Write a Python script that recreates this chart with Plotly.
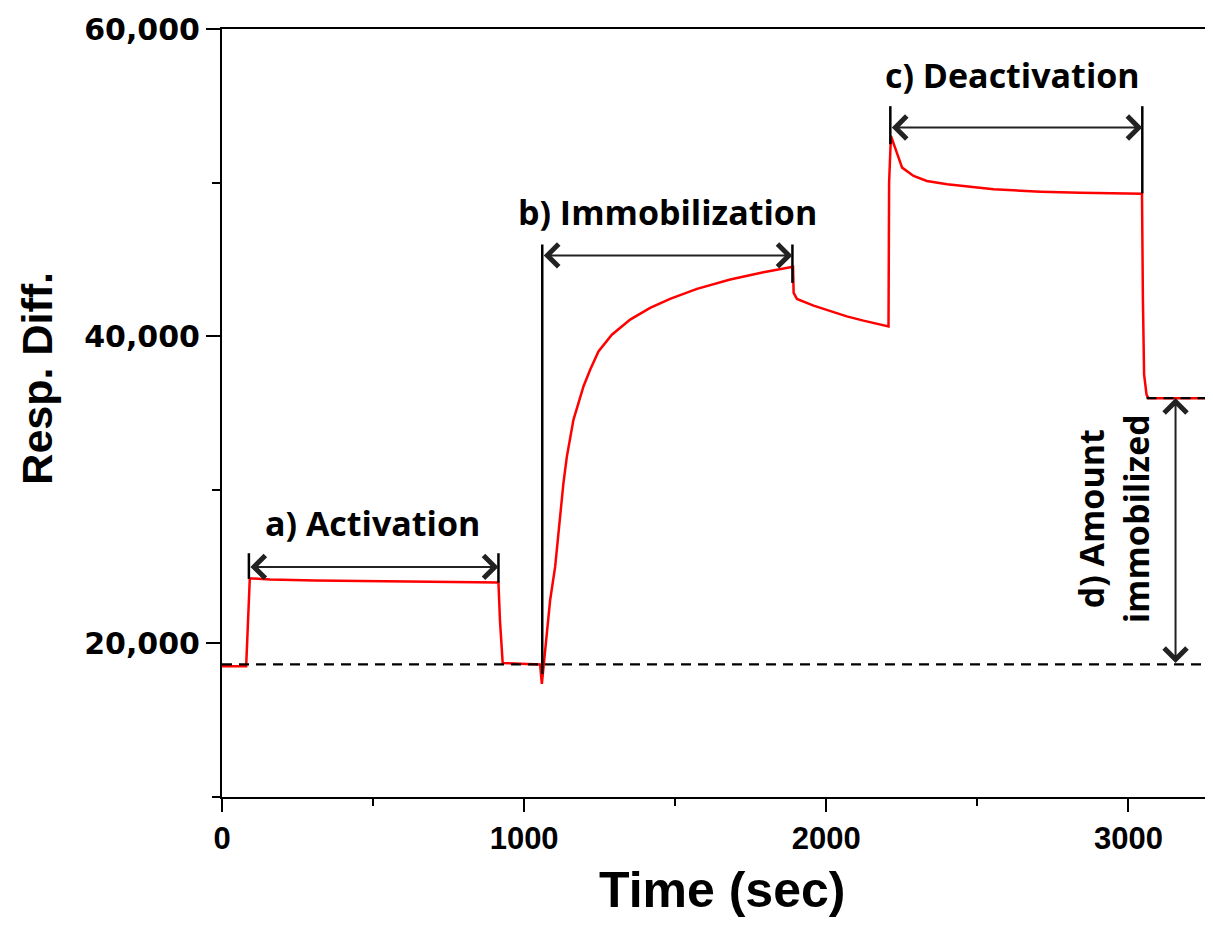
import plotly.graph_objects as go

# ---- data ----
time_s = [0, 80, 92, 159, 308, 838, 915, 920, 929, 987, 1053, 1058.6, 1069.5, 1086,
          1102.6, 1119.2, 1130, 1141.4, 1152.3, 1163.2, 1179.8, 1196.4, 1218.5, 1246,
          1290.4, 1351, 1417, 1483, 1572, 1682, 1792, 1886, 1890, 1892, 1903, 1958,
          2013, 2068, 2123, 2201, 2206, 2208, 2214, 2251, 2289, 2333, 2400, 2554, 2709,
          2841, 3045, 3048, 3052, 3060, 3066, 3272]
resp_diff = [18520, 18520, 24243, 24157, 24092, 24000, 23963, 21500, 18716, 18677, 18630,
             17372, 19545, 22808, 24981, 28244, 30423, 32158, 33463, 34553, 35643, 36726,
             37815, 39009, 40099, 41078, 41841, 42428, 43081, 43688, 44164, 44516, 44516,
             42820, 42428, 41990, 41620, 41293, 41012, 40686, 40640, 50000, 53038, 50975,
             50430, 50105, 49890, 49560, 49410, 49340, 49280, 42400, 37500, 36200, 35968,
             35968]

x_tickvals = [0, 1000, 2000, 3000]
x_ticktext = ["0", "1000", "2000", "3000"]
y_tickvals = [20000, 40000, 60000]
y_ticktext = ["20,000", "40,000", "60,000"]

baseline = 18630
final_level = 35970

phase_labels = ["a) Activation", "b) Immobilization", "c) Deactivation"]
phase_start = [89, 1060, 2212]
phase_end = [915, 1888, 3046]
phase_arrow_y = [24980, 45260, 53586]
phase_top = [25870, 45970, 54976]
phase_start_bottom = [24200, 18000, 52500]
phase_end_bottom = [23960, 43470, 49300]
phase_label_x = [497, 1474, 2616]
phase_label_y = [27832, 48059, 56999]

amount_x = 3156
amount_label = "d) Amount<br>immobilized"
amount_label_x = 2950
amount_label_y = 28100

fig = go.Figure()
fig.add_trace(go.Scatter(x=time_s, y=resp_diff, mode="lines",
                         line=dict(color="#ff0000", width=2.5), showlegend=False,
                         hoverinfo="skip"))

shapes = []
annotations = []

shapes.append(dict(type="line", xref="x", yref="y", x0=0, x1=3280, y0=baseline, y1=baseline,
                   line=dict(color="black", width=2.2, dash="10px,7px")))
shapes.append(dict(type="line", xref="x", yref="y", x0=3060, x1=3280, y0=final_level, y1=final_level,
                   line=dict(color="black", width=2.2, dash="10px,7px")))

ann_font = dict(family="Open Sans, Lato, sans-serif", size=34, color="black", weight="bold")

for i in range(3):
    shapes.append(dict(type="line", xref="x", yref="y", x0=phase_start[i], x1=phase_start[i],
                       y0=phase_start_bottom[i], y1=phase_top[i], line=dict(color="black", width=2.5)))
    shapes.append(dict(type="line", xref="x", yref="y", x0=phase_end[i], x1=phase_end[i],
                       y0=phase_end_bottom[i], y1=phase_top[i], line=dict(color="black", width=2.5)))
    annotations.append(dict(x=phase_end[i], y=phase_arrow_y[i], ax=phase_start[i], ay=phase_arrow_y[i],
                            xref="x", yref="y", axref="x", ayref="y", text="", showarrow=True,
                            arrowhead=4, startarrowhead=4, arrowside="end+start", arrowsize=2.2,
                            startarrowsize=2.2, arrowwidth=2, arrowcolor="#222222",
                            standoff=0, startstandoff=0))
    annotations.append(dict(x=phase_label_x[i], y=phase_label_y[i], xref="x", yref="y",
                            text=phase_labels[i], showarrow=False, font=ann_font,
                            xanchor="center", yanchor="middle"))

annotations.append(dict(x=amount_x, y=final_level, ax=amount_x, ay=baseline,
                        xref="x", yref="y", axref="x", ayref="y", text="", showarrow=True,
                        arrowhead=4, startarrowhead=4, arrowside="end+start", arrowsize=2.2,
                        startarrowsize=2.2, arrowwidth=2, arrowcolor="#222222",
                        standoff=0, startstandoff=0))
annotations.append(dict(x=amount_label_x, y=amount_label_y, xref="x", yref="y",
                        text=amount_label, showarrow=False, font=ann_font, textangle=-90,
                        xanchor="center", yanchor="middle"))

title_font = dict(family="Liberation Sans, Arial, sans-serif", size=50,
                  color="black", weight="bold")
annotations.append(dict(x=-0.1867, y=0.546, xref="paper", yref="paper", text="Resp. Diff.",
                        showarrow=False, textangle=-90, font=dict(title_font, size=43),
                        xanchor="center", yanchor="middle"))
annotations.append(dict(x=0.5045, y=-0.121, xref="paper", yref="paper", text="Time (sec)",
                        showarrow=False, font=title_font, xanchor="center", yanchor="middle"))

# page body has an 8px margin: figure is sized/positioned to compensate
fig.update_layout(
    width=1205, height=922,
    margin=dict(l=214, r=0, t=21, b=133, autoexpand=False),
    plot_bgcolor="white", paper_bgcolor="white",
    shapes=shapes, annotations=annotations,
    showlegend=False,
)
fig.update_xaxes(range=[0, 3280], tickmode="array", tickvals=x_tickvals, ticktext=x_ticktext,
                 ticks="outside", ticklen=13, tickwidth=2, tickcolor="black",
                 showline=True, linecolor="black", linewidth=2, mirror=True,
                 showgrid=False, zeroline=False, automargin=False,
                 minor=dict(tickmode="array", tickvals=[500, 1500, 2500], ticks="outside",
                            ticklen=7, tickwidth=2, tickcolor="black", showgrid=False),
                 tickfont=dict(family="Liberation Sans, Arial, sans-serif",
                               size=31, color="black", weight="bold"))
fig.update_yaxes(range=[10000, 60000], tickmode="array", tickvals=y_tickvals, ticktext=y_ticktext,
                 ticks="outside", ticklen=14, tickwidth=2, tickcolor="black",
                 showline=True, linecolor="black", linewidth=2, mirror=False,
                 showgrid=False, zeroline=False, automargin=False,
                 minor=dict(tickmode="array", tickvals=[10000, 30000, 50000], ticks="outside",
                            ticklen=8, tickwidth=2, tickcolor="black", showgrid=False),
                 tickfont=dict(family="DejaVu Sans, sans-serif", size=30, color="black", weight="bold"))

fig.write_html("out.html")
